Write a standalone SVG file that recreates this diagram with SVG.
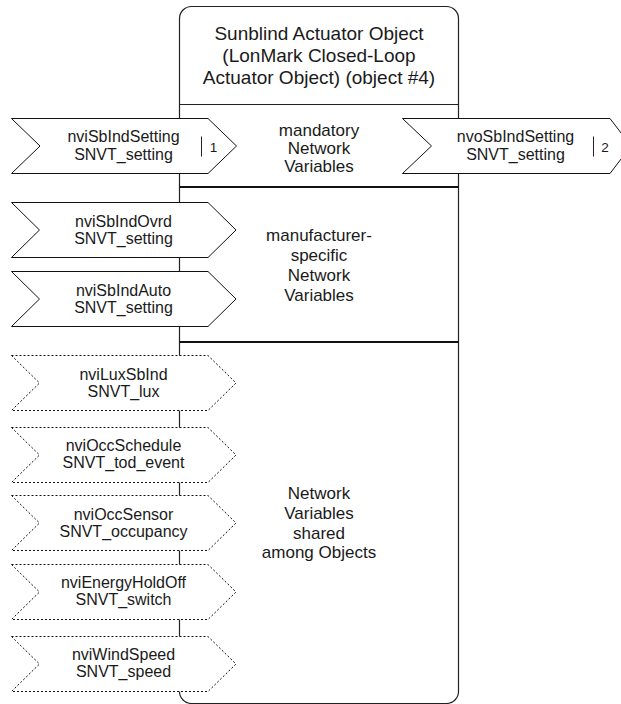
<svg xmlns="http://www.w3.org/2000/svg" width="621" height="704" viewBox="0 0 621 704">
<style>
text{font-family:"Liberation Sans",Arial,sans-serif;fill:#1a1a1a;text-anchor:middle}
.hdr{font-size:19px}
.sec{font-size:17px}
.nv{font-size:16px}
.num{font-size:13.5px}
.solid{fill:#fff;stroke:#111;stroke-width:1}
.dash{fill:#fff;stroke:#111;stroke-width:1;stroke-dasharray:2,2}
.box{fill:#fff;stroke:#222;stroke-width:1.2}
.sep{stroke:#222;stroke-width:1}
.thick{stroke:#111;stroke-width:2}
</style>
<defs>
<path id="arr" d="M0,0 H196.5 L224.5,27.5 L196.5,55 H0 L28,27.5 Z"/>
</defs>
<g id="object">
<rect class="box" x="179.5" y="6.5" width="279" height="697" rx="12"/>
<text class="hdr" x="319" y="39.5">Sunblind Actuator Object</text>
<text class="hdr" x="319" y="61.5">(LonMark Closed-Loop</text>
<text class="hdr" x="319" y="83.5">Actuator Object) (object #4)</text>
<line class="sep" x1="179.5" y1="104.5" x2="458.5" y2="104.5"/>
<line class="thick" x1="179.5" y1="187" x2="458.5" y2="187"/>
<line class="thick" x1="179.5" y1="342" x2="458.5" y2="342"/>
</g>
<g id="section-mandatory">
<text class="sec" x="319" y="136">mandatory</text>
<text class="sec" x="319" y="154">Network</text>
<text class="sec" x="319" y="172">Variables</text>
</g>
<g id="section-manufacturer">
<text class="sec" x="319" y="240.5">manufacturer-</text>
<text class="sec" x="319" y="260.5">specific</text>
<text class="sec" x="319" y="281">Network</text>
<text class="sec" x="319" y="301">Variables</text>
</g>
<g id="section-shared">
<text class="sec" x="319" y="499">Network</text>
<text class="sec" x="319" y="519">Variables</text>
<text class="sec" x="319" y="538.5">shared</text>
<text class="sec" x="319" y="558">among Objects</text>
</g>
<g id="connectors"></g>
<g id="nviSbIndSetting">
<path class="solid" d="M11.5,118.5 H208 L236.5,146 L208,173.5 H11.5 L40,146 Z"/>
<text class="nv" x="123.5" y="142">nviSbIndSetting</text>
<text class="nv" x="123.5" y="159.5">SNVT_setting</text>
<line class="sep" x1="201.5" y1="136.5" x2="201.5" y2="156.5"/>
<text class="num" x="213.5" y="151.5">1</text>
</g>
<g id="nvoSbIndSetting">
<path class="solid" d="M402.5,118.5 H610 L631,146 L610,173.5 H402.5 L431.5,146 Z"/>
<text class="nv" x="515.5" y="142">nvoSbIndSetting</text>
<text class="nv" x="515.5" y="159.5">SNVT_setting</text>
<line class="sep" x1="593.5" y1="136.5" x2="593.5" y2="156.5"/>
<text class="num" x="605" y="151.5">2</text>
</g>
<g id="nviSbIndOvrd">
<use href="#arr" class="solid" transform="translate(11.5,202.5)"/>
<text class="nv" x="123.5" y="226.5">nviSbIndOvrd</text>
<text class="nv" x="123.5" y="243.5">SNVT_setting</text>
</g>
<g id="nviSbIndAuto">
<use href="#arr" class="solid" transform="translate(11.5,271.5)"/>
<text class="nv" x="123.5" y="295.5">nviSbIndAuto</text>
<text class="nv" x="123.5" y="312.5">SNVT_setting</text>
</g>
<g id="nviLuxSbInd">
<use href="#arr" class="dash" transform="translate(11.5,355.5)"/>
<text class="nv" x="123.5" y="379.5">nviLuxSbInd</text>
<text class="nv" x="123.5" y="396.5">SNVT_lux</text>
</g>
<g id="nviOccSchedule">
<use href="#arr" class="dash" transform="translate(11.5,427.5)"/>
<text class="nv" x="123.5" y="451">nviOccSchedule</text>
<text class="nv" x="123.5" y="468">SNVT_tod_event</text>
</g>
<g id="nviOccSensor">
<use href="#arr" class="dash" transform="translate(11.5,495.5)"/>
<text class="nv" x="123.5" y="519.5">nviOccSensor</text>
<text class="nv" x="123.5" y="536.5">SNVT_occupancy</text>
</g>
<g id="nviEnergyHoldOff">
<use href="#arr" class="dash" transform="translate(11.5,564.5)"/>
<text class="nv" x="123.5" y="588">nviEnergyHoldOff</text>
<text class="nv" x="123.5" y="605">SNVT_switch</text>
</g>
<g id="nviWindSpeed">
<use href="#arr" class="dash" transform="translate(11.5,636.5)"/>
<text class="nv" x="123.5" y="660">nviWindSpeed</text>
<text class="nv" x="123.5" y="677">SNVT_speed</text>
</g>
</svg>
